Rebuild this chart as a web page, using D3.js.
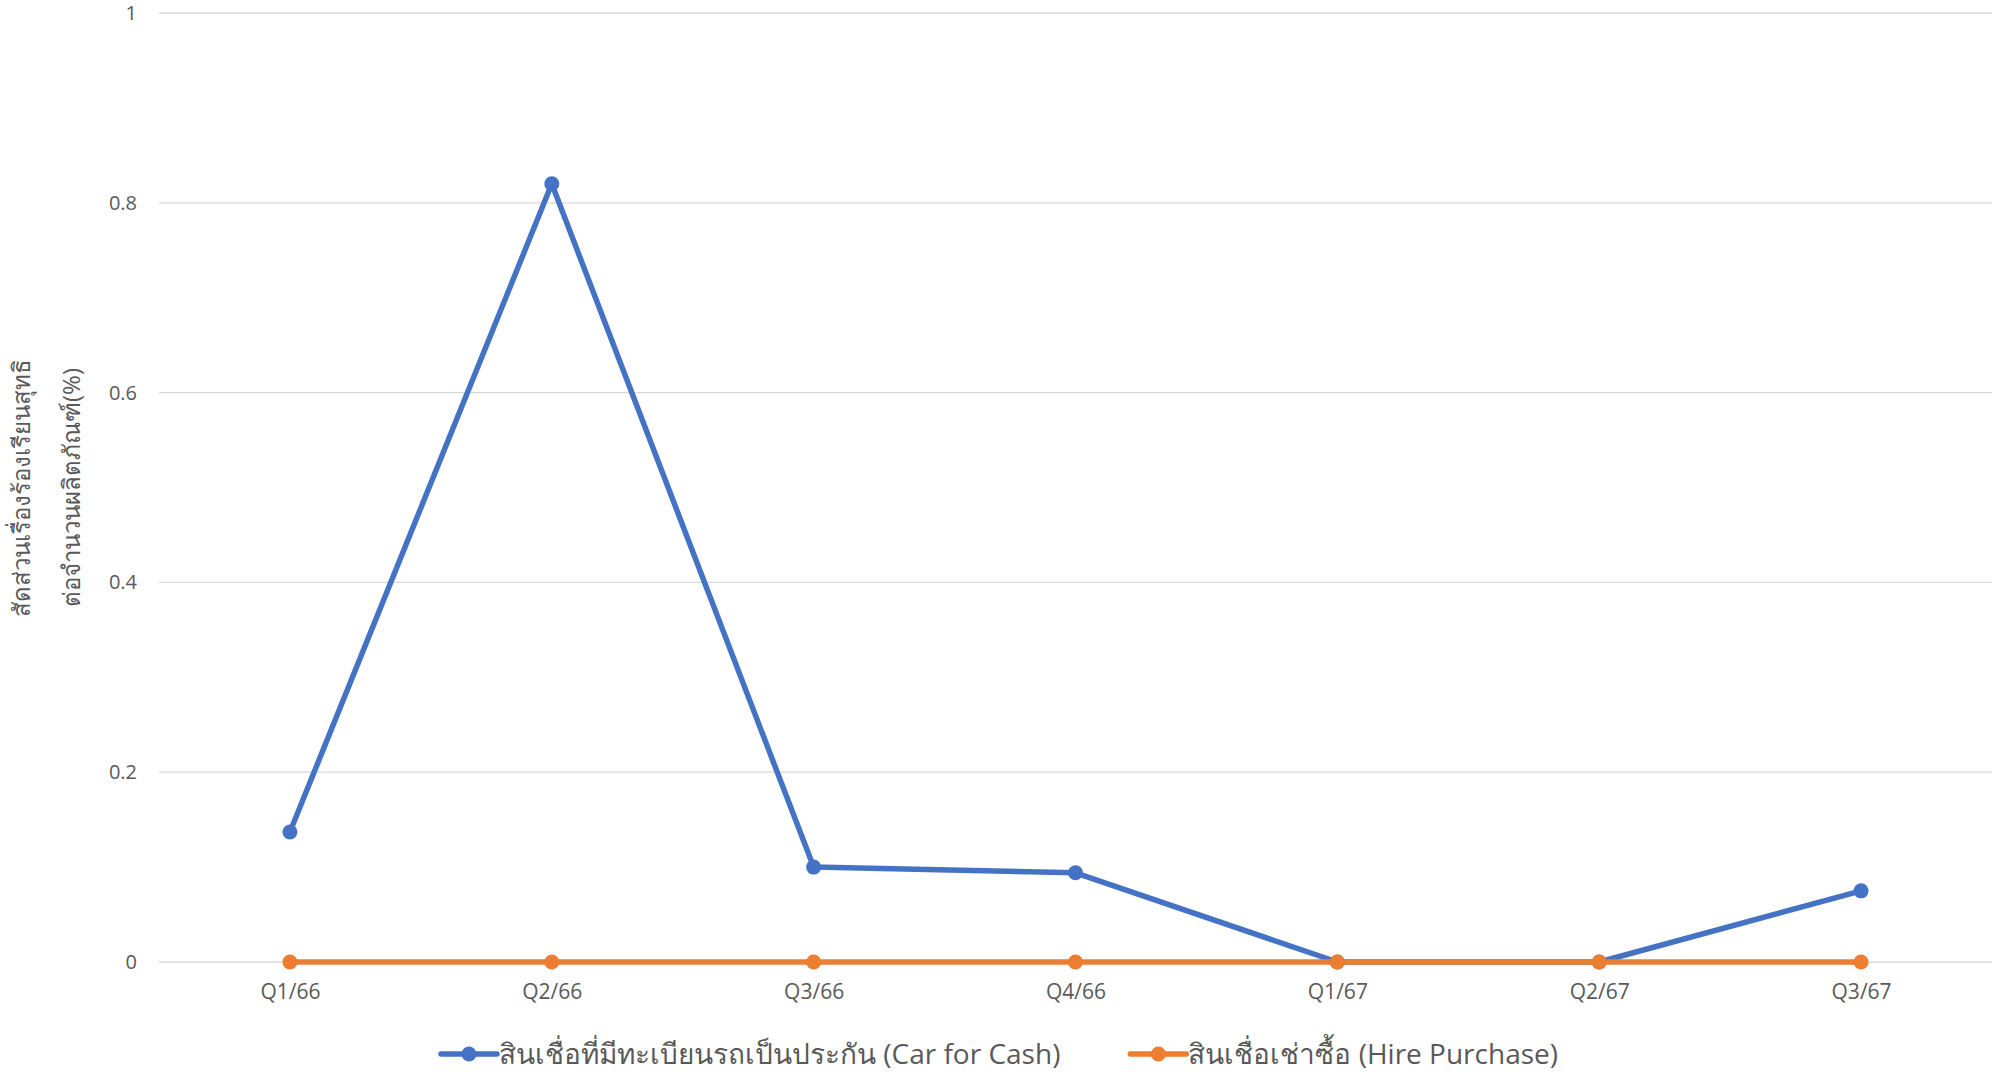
<!DOCTYPE html>
<html>
<head>
<meta charset="utf-8">
<script src="https://cdn.jsdelivr.net/npm/d3@7"></script>
<style>
  body { margin: 0; background: #fff; }
  text { font-family: "Open Sans", "Noto Sans", sans-serif; fill: #595959; }
</style>
</head>
<body>
<div id="chart"></div>
<script>
// chart data
var quarters = ['Q1/66', 'Q2/66', 'Q3/66', 'Q4/66', 'Q1/67', 'Q2/67', 'Q3/67'];
var carForCash = [0.137, 0.82, 0.100, 0.094, 0, 0, 0.075];
var hirePurchase = [0, 0, 0, 0, 0, 0, 0];
var yTicks = [0, 0.2, 0.4, 0.6, 0.8, 1];
var seriesNames = ['สินเชื่อที่มีทะเบียนรถเป็นประกัน (Car for Cash)', 'สินเชื่อเช่าซื้อ (Hire Purchase)'];
var yTitle = ['สัดส่วนเรื่องร้องเรียนสุทธิ', 'ต่อจำนวนผลิตภัณฑ์(%)'];

var W = 1999, H = 1080;
var margin = { top: 13, right: 7, bottom: 118, left: 159 };
var width = W - margin.left - margin.right;
var height = H - margin.top - margin.bottom;

var svg = d3.select('#chart').append('svg')
	.attr('width', W)
	.attr('height', H);
var g = svg.append('g')
	.attr('transform', 'translate(' + margin.left + ',' + margin.top + ')');

var x = d3.scalePoint().domain(quarters).range([0, width]).padding(0.5);
var y = d3.scaleLinear().domain([0, 1]).range([height, 0]);

// gridlines
g.append('g')
	.selectAll('line')
	.data(yTicks)
	.enter().append('line')
	.attr('x1', 0).attr('x2', width)
	.attr('y1', function(d) { return y(d); })
	.attr('y2', function(d) { return y(d); })
	.attr('stroke', '#d9d9d9')
	.attr('stroke-width', 1.3);

// y axis labels
var yAxis = g.append('g')
	.call(d3.axisLeft(y).tickValues(yTicks).tickSize(0).tickPadding(22).tickFormat(d3.format('~g')));
yAxis.select('.domain').remove();
yAxis.selectAll('text').style('font-size', '20px').attr('fill', '#595959').style('font-family', '"Open Sans", sans-serif');

// x axis labels
var xAxis = g.append('g')
	.attr('transform', 'translate(0,' + height + ')')
	.call(d3.axisBottom(x).tickSize(0).tickPadding(22));
xAxis.select('.domain').remove();
xAxis.selectAll('text').style('font-size', '21px').attr('fill', '#595959').style('font-family', '"Open Sans", sans-serif');

// y title
var title = svg.append('text')
	.attr('transform', 'translate(30,' + (margin.top + height / 2) + ') rotate(-90)')
	.attr('text-anchor', 'middle')
	.style('font-size', '24px');
title.append('tspan').attr('x', 0).attr('dy', 0).text(yTitle[0]);
title.append('tspan').attr('x', 0).attr('dy', 50).text(yTitle[1]);

// lines
var colors = ['#4472C4', '#ED7D31'];
var series = [carForCash, hirePurchase];
var line = d3.line()
	.x(function(d, i) { return x(quarters[i]); })
	.y(function(d) { return y(d); });

series.forEach(function(values, s) {
	g.append('path')
		.datum(values)
		.attr('fill', 'none')
		.attr('stroke', colors[s])
		.attr('stroke-width', 5.5)
		.attr('stroke-linejoin', 'round')
		.attr('d', line);
	g.append('g')
		.selectAll('circle')
		.data(values)
		.enter().append('circle')
		.attr('cx', function(d, i) { return x(quarters[i]); })
		.attr('cy', function(d) { return y(d); })
		.attr('r', 7.5)
		.attr('fill', colors[s]);
});

// legend
var legend = svg.append('g').attr('transform', 'translate(0,1054)');
var items = [];
seriesNames.forEach(function(name, s) {
	var item = legend.append('g');
	item.append('line')
		.attr('x1', 0).attr('x2', 56)
		.attr('stroke', colors[s]).attr('stroke-width', 5.5).attr('stroke-linecap', 'round');
	item.append('circle').attr('cx', 28).attr('r', 7.5).attr('fill', colors[s]);
	var t = item.append('text')
		.attr('x', 58).attr('dy', '0.35em')
		.style('font-size', '28px')
		.text(name);
	var w = 58 + t.node().getComputedTextLength();
	items.push({ node: item, w: w });
});
var gap = 70;
var total = d3.sum(items, function(d) { return d.w; }) + gap * (items.length - 1);
var start = (W - total) / 2;
items.forEach(function(it) {
	it.node.attr('transform', 'translate(' + start + ',0)');
	start += it.w + gap;
});
</script>
</body>
</html>
